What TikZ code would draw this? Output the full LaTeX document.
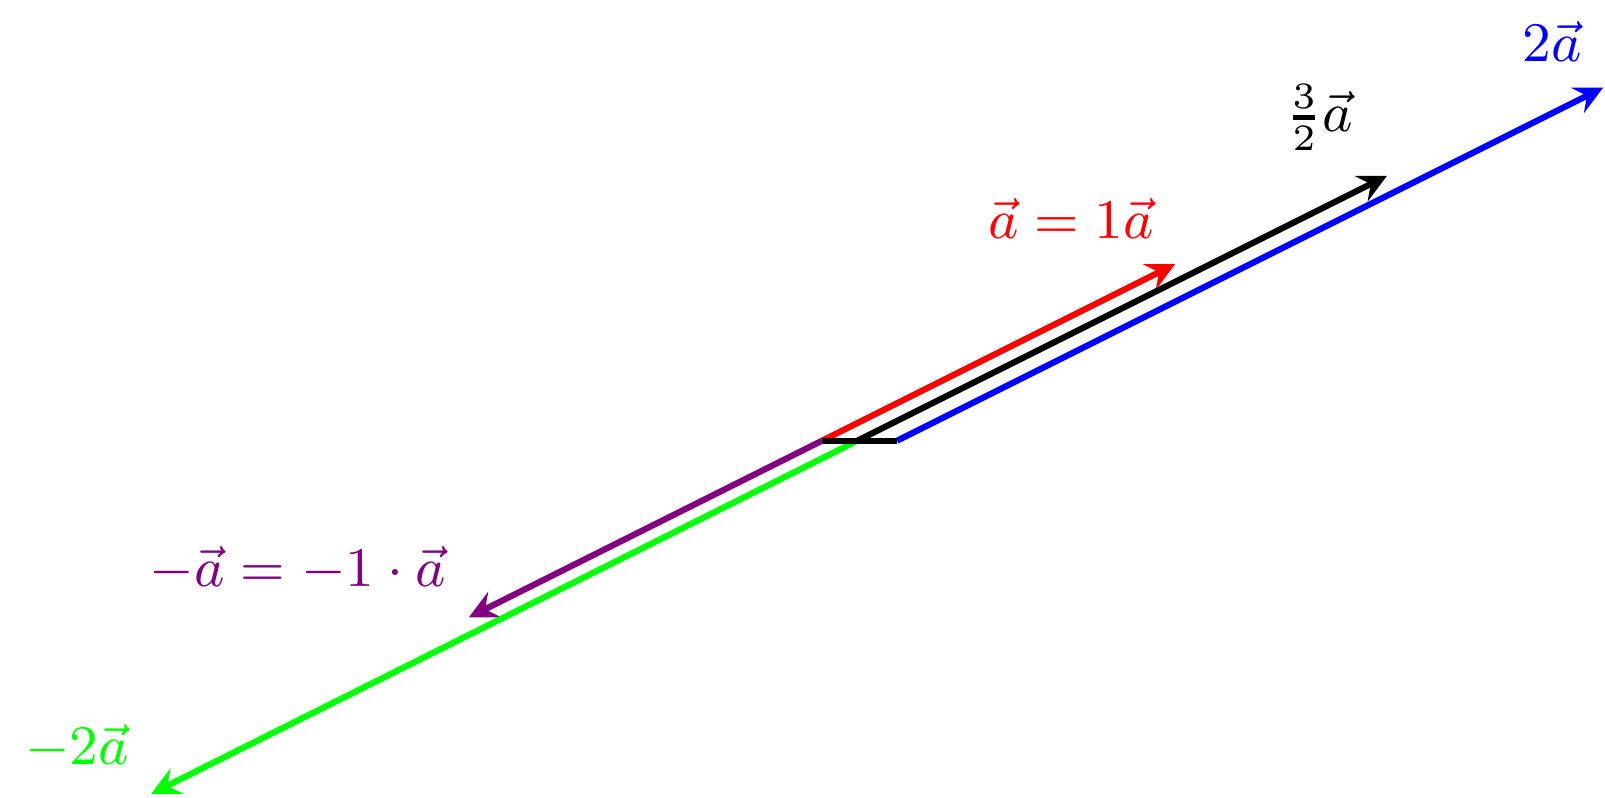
\documentclass[tikz,border=0pt]{standalone}
\usepackage{amsmath}
\definecolor{vecpurple}{RGB}{128,0,128}
\begin{document}
\begin{tikzpicture}[>=stealth]
	\tikzset{vec/.style={->, line width=1pt}, lbl/.style={font=\fontsize{9.2}{11}\selectfont, inner sep=0pt}};
	\useasboundingbox (-4.657,-2.019) rectangle (4.436,2.497);
	\coordinate (o1) at (0,0);
	\coordinate (o2) at (0.2,0);
	\coordinate (o3) at (0.425,0);
	\coordinate (a1) at (2,1);
	\coordinate (a2) at (3.2,1.5);
	\coordinate (a3) at (4.425,2);
	\coordinate (m1) at (-2,-1);
	\coordinate (m2) at (-3.8,-2);

	\draw[vec, vecpurple] (o1) -- (m1);
	\draw[vec, green] (o2) -- (m2);
	\draw[vec, red] (o1) -- (a1);
	\draw[vec, black] (o2) -- (a2);
	\draw[vec, blue] (o3) -- (a3);
	\draw[line width=1pt] (o1) -- (o3);

	\node[lbl, red] (l1) at (1.411,1.26) {$\vec{a} = 1\vec{a}$};
	\node[lbl, black] (l2) at (2.816,1.83) {$\genfrac{}{}{0.8pt}{}{3}{2}\vec{a}$};
	\node[lbl, blue] (l3) at (4.136,2.26) {$2\vec{a}$};
	\node[lbl, vecpurple] (l4) at (-2.969,-0.73) {$-\vec{a} = -1 \cdot \vec{a}$};
	\node[lbl, green] (l5) at (-4.221,-1.735) {$-2\vec{a}$};
\end{tikzpicture}
\end{document}
